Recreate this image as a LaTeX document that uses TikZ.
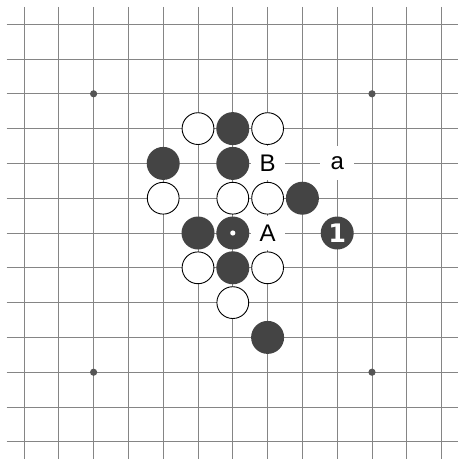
\documentclass[tikz,border=0pt]{standalone}
\usepackage{fontspec}
\setmainfont{Liberation Sans}
\newfontfamily\numfont{DejaVu Sans}
\definecolor{gridgray}{HTML}{858585}
\definecolor{stoneblack}{HTML}{444444}
\definecolor{stargray}{HTML}{555555}
\begin{document}
\begin{tikzpicture}[x=34.8pt,y=-34.8pt,
  gridline/.style={draw=gridgray,line width=1pt},
  bstone/.style={circle,fill=stoneblack,minimum size=33pt,inner sep=0pt},
  wstone/.style={circle,fill=white,draw=black,line width=0.9pt,minimum size=31.8pt,inner sep=0pt},
  lbl/.style={fill=white,minimum size=34pt,inner sep=0pt,font=\fontsize{24}{28}\selectfont},
  numstone/.style={bstone,text=white,font=\numfont\bfseries\fontsize{25.5}{28}\selectfont},
]
\useasboundingbox (-0.6897,-0.6954) rectangle (12.471,12.494);
\begin{scope}
\clip (-0.6897,-0.6954) rectangle (12.471,12.494);
\foreach \i in {0,...,12} {
  \draw[gridline] (-0.5,\i) -- (12.6,\i);
  \draw[gridline] (\i,-0.5) -- (\i,12.6);
}
\end{scope}
\foreach \p in {(2,2),(10,2),(2,10),(10,10)} \fill[stargray] \p circle (3.6pt);
% row 3
\node[wstone] (w53) at (5,3) {};
\node[bstone] (b63) at (6,3) {};
\node[wstone] (w73) at (7,3) {};
% row 4
\node[bstone] (b44) at (4,4) {};
\node[bstone] (b64) at (6,4) {};
\node[lbl] (lB) at (7,4) {B};
\node[lbl] (la) at (9,4) {a};
% row 5
\node[wstone] (w45) at (4,5) {};
\node[wstone] (w65) at (6,5) {};
\node[wstone] (w75) at (7,5) {};
\node[bstone] (b85) at (8,5) {};
% row 6
\node[bstone] (b56) at (5,6) {};
\node[bstone] (b66) at (6,6) {};
\fill[white] (b66.center) circle (2.6pt);
\node[lbl] (lA) at (7,6) {A};
\node[numstone] (m1) at (9,6) {1};
% row 7
\node[wstone] (w57) at (5,7) {};
\node[bstone] (b67) at (6,7) {};
\node[wstone] (w77) at (7,7) {};
% row 8
\node[wstone] (w68) at (6,8) {};
% row 9
\node[bstone] (b79) at (7,9) {};
\end{tikzpicture}
\end{document}
